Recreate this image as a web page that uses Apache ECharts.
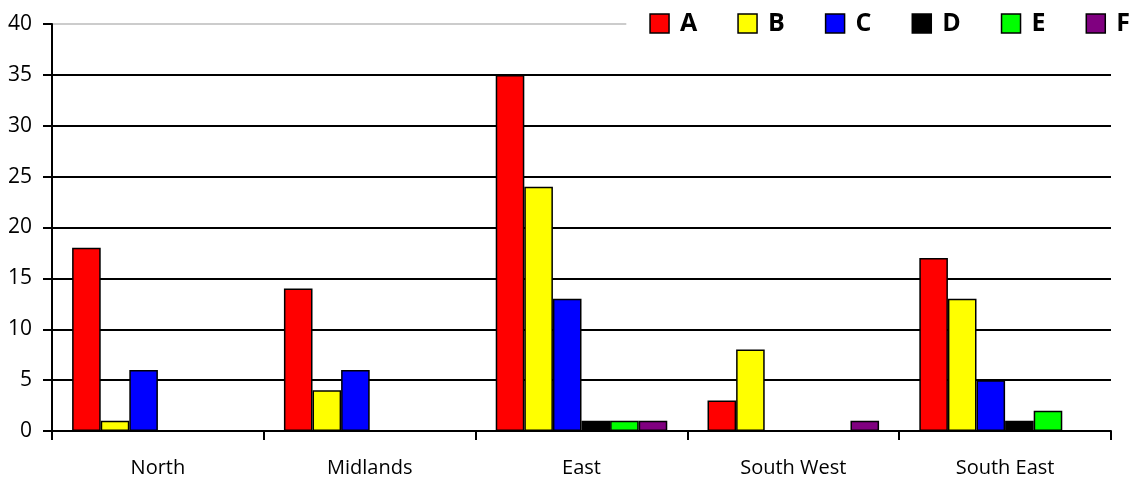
<!DOCTYPE html>
<html><head><meta charset="utf-8">
<script src="https://cdn.jsdelivr.net/npm/echarts@6/dist/echarts.min.js"></script>
<style>html,body{margin:0;padding:0;background:#fff}#c{width:1137px;height:479px}</style>
</head><body><div id="c"></div>
<script>
const categories = ['North', 'Midlands', 'East', 'South West', 'South East'];
const seriesNames = ['A', 'B', 'C', 'D', 'E', 'F'];
const seriesColors = ['#ff0000', '#ffff00', '#0000ff', '#000000', '#00ff00', '#800080'];
const valuesA = [18, 14, 35, 3, 17];
const valuesB = [1, 4, 24, 8, 13];
const valuesC = [6, 6, 13, null, 5];
const valuesD = [null, null, 1, null, 1];
const valuesE = [null, null, 1, null, 2];
const valuesF = [null, null, 1, 1, null];
const yTicks = [0, 5, 10, 15, 20, 25, 30, 35, 40];

const allValues = [valuesA, valuesB, valuesC, valuesD, valuesE, valuesF];
const chart = echarts.init(document.getElementById('c'));
const font = 'Open Sans';
chart.setOption({
  animation: false,
  backgroundColor: '#fff',
  grid: { left: 52, right: 26, top: 24, bottom: 48, containLabel: false },
  legend: {
    right: 0, top: 4,
    backgroundColor: '#fff',
    padding: [7, 7, 7, 23],
    itemWidth: 19, itemHeight: 19, itemGap: 40,
    icon: 'rect',
    itemStyle: { borderColor: '#000', borderWidth: 1.5 },
    textStyle: { fontFamily: font, fontWeight: 'bold', fontSize: 25, color: '#000', padding: [0, 0, 0, 6] },
    data: seriesNames
  },
  xAxis: {
    type: 'category', data: categories,
    axisLine: { lineStyle: { color: '#000', width: 2 } },
    axisTick: { show: true, length: 9, lineStyle: { color: '#000', width: 2 } },
    axisLabel: { fontFamily: font, fontSize: 20, color: '#000', margin: 27 }
  },
  yAxis: {
    type: 'value', min: yTicks[0], max: yTicks[yTicks.length - 1], interval: 5,
    axisLine: { show: true, lineStyle: { color: '#000', width: 2 } },
    axisTick: { show: true, length: 9, lineStyle: { color: '#000', width: 2 } },
    axisLabel: { fontFamily: font, fontSize: 21, color: '#000', margin: 20 },
    splitLine: { show: true, lineStyle: { color: ['#000','#000','#000','#000','#000','#000','#000','#000','#cccccc'], width: 2 } }
  },
  series: seriesNames.map((n, i) => ({
    name: n, type: 'bar', data: allValues[i],
    barGap: '0%', barCategoryGap: '19%',
    itemStyle: { color: seriesColors[i], borderColor: '#000', borderWidth: 1.5 }
  }))
});
</script></body></html>
